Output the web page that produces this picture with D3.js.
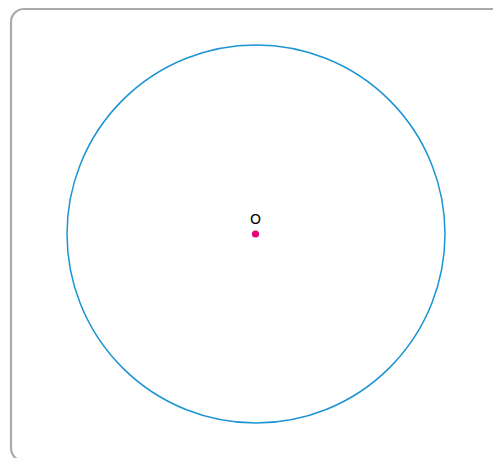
<!DOCTYPE html>
<html>
<head>
<meta charset="utf-8">
<script src="https://cdn.jsdelivr.net/npm/d3@7"></script>
<style>
body{margin:0;background:#fff}
svg{display:block}
</style>
</head>
<body>
<svg width="493" height="458"></svg>
<script>
// geometry in units, center O at origin
const pointNames=["O"]
const pointX=[0]
const pointY=[0]
const circleR=[5]

const svg=d3.select("svg")
// frame
svg.append("rect").attr("x",11).attr("y",9).attr("width",494).attr("height",452)
.attr("rx",13).attr("fill","none").attr("stroke","#aaaaaa").attr("stroke-width",2.2)

const x=d3.scaleLinear().domain([-5,5]).range([67,445])
const y=d3.scaleLinear().domain([-5,5]).range([423,45])

circleR.forEach((r,i)=>{
svg.append("circle").attr("cx",x(pointX[i])).attr("cy",y(pointY[i]))
.attr("r",x(r)-x(0)).attr("fill","none").attr("stroke","#1a94d2").attr("stroke-width",1.5)
})

pointNames.forEach((n,i)=>{
svg.append("circle").attr("cx",x(pointX[i])-0.5).attr("cy",y(pointY[i])).attr("r",3.6).attr("fill","#e5007d")
svg.append("text").attr("x",x(pointX[i])-0.5).attr("y",y(pointY[i])-10.5).attr("text-anchor","middle")
.attr("font-family","DejaVu Sans").attr("font-size",14).attr("fill","#000").text(n)
})
</script>
</body>
</html>
